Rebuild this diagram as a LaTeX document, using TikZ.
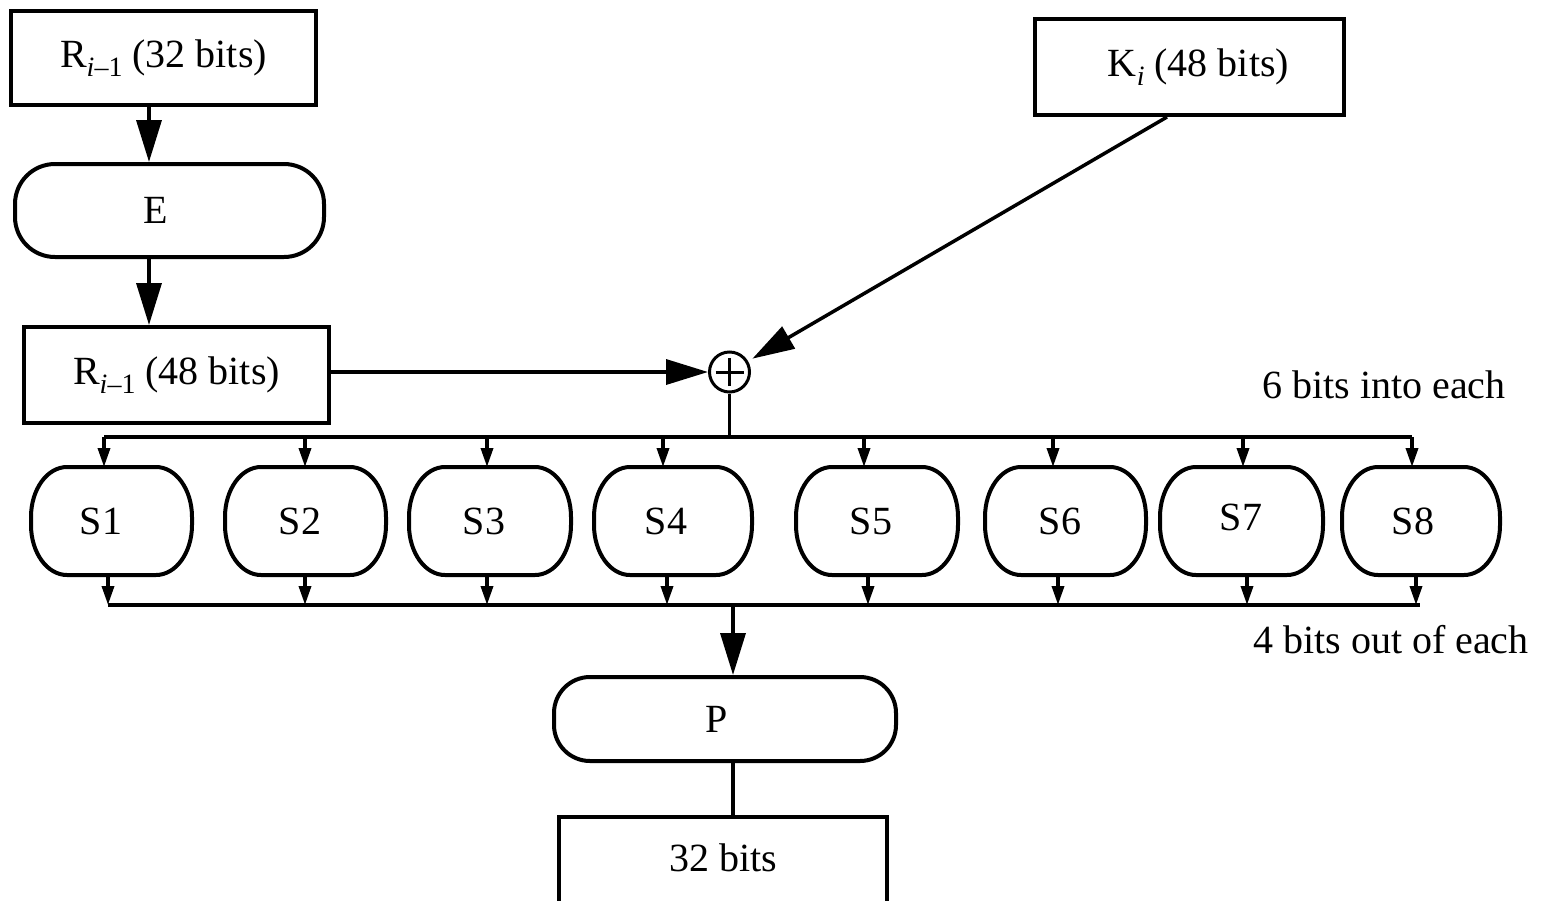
\documentclass[tikz,border=0pt]{standalone}
\usepackage{fontspec}
\setmainfont{Liberation Serif}
\usetikzlibrary{arrows.meta,calc}
\newcommand{\mysub}[1]{\raisebox{-9pt}{\fontsize{28}{30}\selectfont #1}}
\newcommand{\sshape}[1]{%
  \draw[line width=4pt] ([xshift=-36pt]#1.north east)
    arc[start angle=90,end angle=0,x radius=36pt,y radius=50pt]
    -- ([yshift=50pt]#1.south east)
    arc[start angle=0,end angle=-90,x radius=36pt,y radius=50pt]
    -- ([xshift=36pt]#1.south west)
    arc[start angle=270,end angle=180,x radius=36pt,y radius=50pt]
    -- ([yshift=-50pt]#1.north west)
    arc[start angle=180,end angle=90,x radius=36pt,y radius=50pt]
    -- cycle;}
\begin{document}
\begin{tikzpicture}[x=1pt,y=-1pt,font=\fontsize{40}{48}\selectfont,
  sqbox/.style={draw,line width=4pt,inner sep=0pt},
  pill/.style={draw,line width=4pt,rounded corners=40pt,inner sep=0pt},
  sbox/.style={inner sep=0pt,outer sep=0pt,minimum height=108pt,minimum width=#1},
  conn/.style={line width=3.5pt},
  big/.style={conn,-{Triangle[length=42pt,width=25pt]}},
  small/.style={conn,-{Triangle[length=19pt,width=12pt]}},
  plain/.style={anchor=base west,inner sep=0pt}]
\useasboundingbox (0,0) rectangle (1541,900);
\clip (0,0) rectangle (1541,900);

% boxes
\node[sqbox,minimum width=305pt,minimum height=94pt] (r32) at (163.5,58) {R\mysub{\textit{i}\textendash 1} (32 bits)};
\node[pill,minimum width=309pt,minimum height=93pt,label={[xshift=-14pt]center:E}] (e) at (169.5,210.5) {};
\node[sqbox,minimum width=305pt,minimum height=96pt] (r48) at (176.5,375) {R\mysub{\textit{i}\textendash 1} (48 bits)};
\node[sqbox,minimum width=309pt,minimum height=96pt,label={[xshift=9pt]center:K\mysub{\textit{i}} (48 bits)}] (k) at (1189.5,67) {};
\node[circle,draw,line width=3pt,minimum size=40pt,inner sep=0pt] (xor) at (729.5,372) {};
\draw[line width=3pt] ([xshift=-14pt]xor.center) -- ([xshift=14pt]xor.center);
\draw[line width=3pt] ([yshift=-14pt]xor.center) -- ([yshift=14pt]xor.center);

% S-boxes
\node[sbox=161pt,label={[xshift=-10.5pt]center:S1}] (s1) at (111.5,521) {};
\node[sbox=161pt,label={[xshift=-5.5pt]center:S2}] (s2) at (305.5,521) {};
\node[sbox=162pt,label={[xshift=-6pt]center:S3}] (s3) at (490,521) {};
\node[sbox=158pt,label={[xshift=-7pt]center:S4}] (s4) at (673,521) {};
\node[sbox=162pt,label={[xshift=-6pt]center:S5}] (s5) at (877,521) {};
\node[sbox=161pt,label={[xshift=-5.5pt]center:S6}] (s6) at (1065.5,521) {};
\node[sbox=163pt,label={[xshift=-0.5pt,yshift=4pt]center:S7}] (s7) at (1241.5,521) {};
\node[sbox=158pt,label={[xshift=-8pt]center:S8}] (s8) at (1421,521) {};
\foreach \n in {1,...,8}{\sshape{s\n}}

\node[pill,rounded corners=36pt,minimum width=342pt,minimum height=84pt,label={[xshift=-8pt]center:P}] (p) at (725,719) {};
\node[sqbox,minimum width=328pt,minimum height=90pt,label={[yshift=4pt]center:32 bits}] (out) at (723,862) {};

% labels
\node[plain] (t6) at (1262,398) {6 bits into each};
\node[plain] (t4) at (1253,653) {4 bits out of each};

% connectors
\draw[big] ([xshift=-14.5pt]r32.south) -- ([xshift=-20.5pt]e.north);
\draw[big] ([xshift=-20.5pt]e.south) -- ([xshift=-27.5pt]r48.north);
\draw[big] (r48.east |- xor.west) -- (xor.west);
\draw[big,shorten >=5pt] ([xshift=-22.5pt]k.south) -- (xor);

\coordinate (tl) at (104,437);
\coordinate (tr) at (1412,437);
\coordinate (bl) at (108,605);
\coordinate (br) at (1420,605);
\draw[conn] (tl) -- (tr);
\draw[conn] (xor.south) -- (xor.south |- tl);
\draw[conn] (bl) -- (br);

\foreach \n/\a/\b in {1/-7.5/-3.5, 2/-0.5/-0.5, 3/-3/-3, 4/-10/-6, 5/-13/-9, 6/-12.5/-7.5, 7/1.5/5.5, 8/-9/-5}{
  \draw[small] ([xshift=\a pt]s\n.north |- tl) -- ([xshift=\a pt]s\n.north);
  \draw[small] ([xshift=\b pt]s\n.south) -- ([xshift=\b pt]s\n.south |- bl);
}

\draw[big] ([xshift=8pt]p.north |- bl) -- ([xshift=8pt]p.north);
\draw[conn] ([xshift=8pt]p.south) -- ([xshift=8pt]p.south |- out.north);
\end{tikzpicture}
\end{document}
